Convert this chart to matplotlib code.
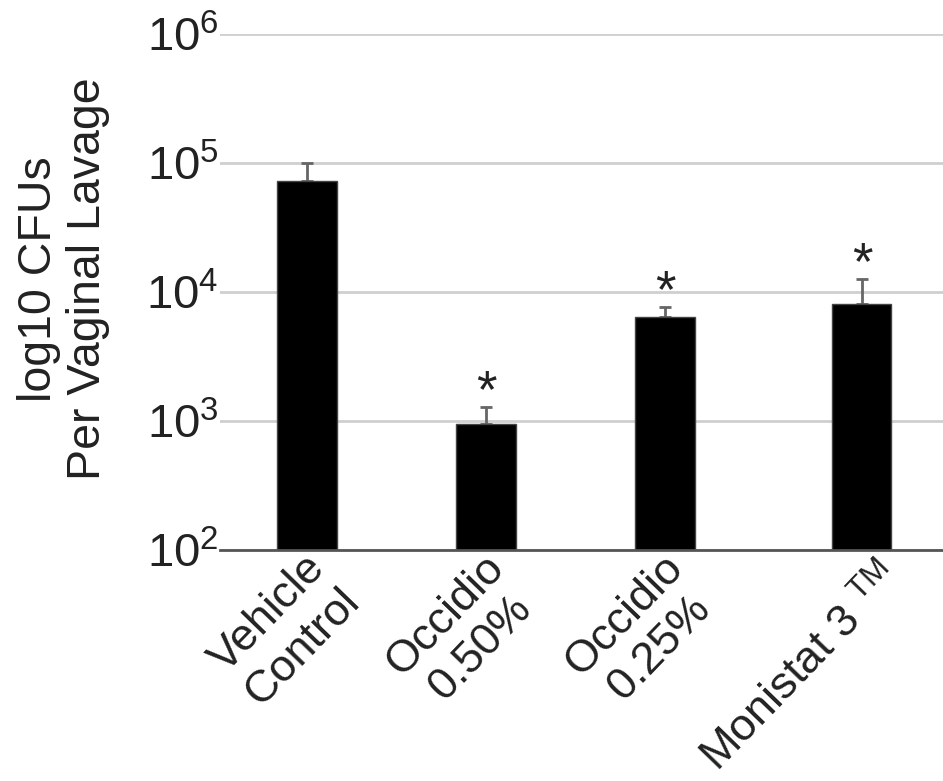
import matplotlib
matplotlib.use("Agg")
import matplotlib.pyplot as plt
import matplotlib.transforms as mtransforms
import numpy as np

plt.rcParams['font.family'] = ['Liberation Sans', 'DejaVu Sans']
plt.rcParams['mathtext.fontset'] = 'custom'
plt.rcParams['mathtext.rm'] = 'Liberation Sans'
plt.rcParams['mathtext.it'] = 'Liberation Sans:italic'
plt.rcParams['mathtext.bf'] = 'Liberation Sans:bold'

# CFU counts per lavage (mean and upper SEM)
groups = ["Vehicle\nControl", "Occidio\n0.50%", "Occidio\n0.25%", "Monistat 3 $^{\\rm TM}$"]
cfu_mean = [73000, 950, 6400, 8100]
cfu_err = [27000, 340, 1300, 4600]
significant = [False, True, True, True]

xpos = np.array([0, 1, 2, 3.1])
text_col = "#222222"

fig = plt.figure(figsize=(9.43, 7.81), dpi=100)
ax = fig.add_axes([0.2333, 0.2958, 0.7667, 0.6607])

ax.bar(xpos, cfu_mean, width=0.33, color="black", edgecolor="#444444",
       linewidth=1, zorder=3)
ax.errorbar(xpos, cfu_mean, yerr=[np.zeros(len(cfu_err)), cfu_err], fmt="none",
            ecolor="#666666", elinewidth=2, capsize=4.5, capthick=2, zorder=2)

# significance marks
for x, m, e, s in zip(xpos, cfu_mean, cfu_err, significant):
    if s:
        ax.text(x, m + e, "*", ha="center", va="baseline", fontsize=38,
                color=text_col)

ax.set_yscale("log")
ax.set_ylim(1e2, 1e6)
ax.set_xlim(-0.486, 3.553)
ax.set_yticks([1e2, 1e3, 1e4, 1e5, 1e6])
ax.minorticks_off()
ax.yaxis.grid(True, color="#cfcfcf", linewidth=2, zorder=0)
ax.set_axisbelow(True)

for side in ["left", "right", "top"]:
    ax.spines[side].set_visible(False)
ax.spines["bottom"].set_color("#555555")
ax.spines["bottom"].set_linewidth(2)
ax.spines["bottom"].set_zorder(4)

ax.tick_params(axis="y", length=0, pad=1, labelsize=34, labelcolor=text_col)
ax.tick_params(axis="x", length=0, pad=0)

ax.set_xticks(xpos)
ax.set_xticklabels(groups, rotation=46, rotation_mode="anchor", ha="right",
                   va="top", fontsize=32.5, color=text_col, multialignment="center",
                   linespacing=1.2)
# nudge the two-line labels up and left; the single-line one sits as is
offsets = [(-2, 2), (-2, 2), (-2, 2), (12, -6)]
for lab, (dx, dy) in zip(ax.get_xticklabels(), offsets):
    shift = mtransforms.ScaledTranslation(dx / 72, dy / 72, fig.dpi_scale_trans)
    lab.set_transform(lab.get_transform() + shift)

ax.set_ylabel("log10 CFUs\nPer Vaginal Lavage", fontsize=33.5, color=text_col,
              linespacing=1.15)
ax.yaxis.set_label_coords(-0.152, 0.525)

fig.savefig("out.png", dpi=100, facecolor="white")
